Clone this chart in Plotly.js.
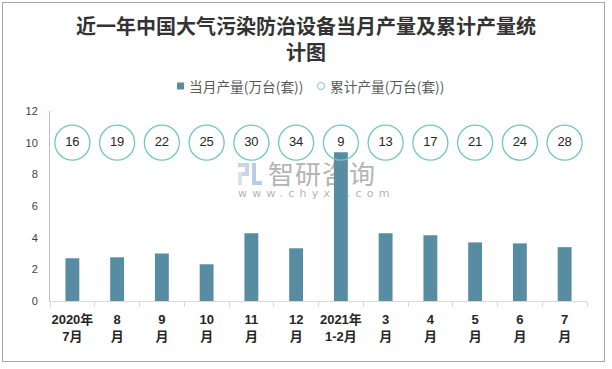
<!DOCTYPE html>
<html>
<head>
<meta charset="utf-8">
<script src="https://cdn.plot.ly/plotly-3.0.1.min.js"></script>
<style>
  html, body { margin: 0; padding: 0; background: #fff; width: 612px; height: 369px; overflow: hidden; }
  #frame { position: absolute; left: 2px; top: 2px; width: 603px; height: 360px; border: 1px solid #a6a6a6; box-sizing: border-box; z-index: 0; }
  #wm1 { position: absolute; left: 268px; top: 160px; font-family: "Noto Sans CJK SC", sans-serif; font-size: 26px; line-height: 26px; color: #b4b4b4; letter-spacing: 1px; z-index: 0; }
  #wm2 { position: absolute; left: 238px; top: 187px; font-family: "DejaVu Sans", sans-serif; font-size: 11px; line-height: 13px; color: #b4b4b4; letter-spacing: 5.2px; z-index: 0; }
  #logo { position: absolute; left: 238px; top: 163px; width: 24px; height: 22px; z-index: 0; }
  #logo div { position: absolute; background: #c9d5e6; }
  #chart { position: absolute; left: 0; top: 0; width: 612px; height: 369px; z-index: 1; }
</style>
</head>
<body>
<div id="frame"></div>
<div id="logo"><div style="left:0;top:0;width:11px;height:4px"></div><div style="left:7px;top:0;width:4px;height:12px"></div><div style="left:0;top:9px;width:11px;height:4px"></div><div style="left:0;top:9px;width:4px;height:13px;background:#d7e2ee"></div><div style="left:14px;top:0;width:4px;height:22px;background:#b9cde4"></div><div style="left:14px;top:18px;width:10px;height:4px;background:#b9cde4"></div></div>
<div id="wm1">智研咨询</div>
<div id="wm2">www.chyxx.com</div>
<div id="chart"></div>
<script>
// Data
const categories = ['2020年7月','8月','9月','10月','11月','12月','2021年1-2月','3月','4月','5月','6月','7月'];
const tickLabels = ['2020年<br>7月','8<br>月','9<br>月','10<br>月','11<br>月','12<br>月','2021年<br>1-2月','3<br>月','4<br>月','5<br>月','6<br>月','7<br>月'];
const monthlyOutput = [2.7, 2.76, 3.0, 2.32, 4.28, 3.33, 9.4, 4.28, 4.15, 3.7, 3.64, 3.4];
const cumulativeOutput = [16, 19, 22, 25, 30, 34, 9, 13, 17, 21, 24, 28];
const seriesNames = ['当月产量(万台(套))', '累计产量(万台(套))'];
const titleLines = ['近一年中国大气污染防治设备当月产量及累计产量统', '计图'];
const yTicks = [0, 2, 4, 6, 8, 10, 12];

const labelRow = 10; // height on the value axis where cumulative labels are shown

const barColor = '#588ca3';
const circleColor = '#72c7c1';

// plot-area geometry (pixels)
const M = { l: 50, r: 25, t: 111, b: 68 };
const W = 612, H = 369;
const pw = W - M.l - M.r, ph = H - M.t - M.b;
const px = v => (v - M.l) / pw;          // pixel x -> paper x
const py = v => (H - M.b - v) / ph;      // pixel y -> paper y

const traces = [
  {
    type: 'bar',
    x: categories,
    y: monthlyOutput,
    name: seriesNames[0],
    marker: { color: barColor },
    hoverinfo: 'x+y'
  },
  {
    type: 'scatter',
    mode: 'markers+text',
    x: categories,
    y: cumulativeOutput.map(() => labelRow),
    text: cumulativeOutput.map(String),
    name: seriesNames[1],
    textposition: 'middle center',
    textfont: { family: 'Liberation Sans, Noto Sans CJK SC, sans-serif', size: 13, color: '#262626' },
    marker: { symbol: 'circle-open', size: 35, color: circleColor, line: { width: 1.3, color: circleColor } },
    hoverinfo: 'text'
  }
];

const legendFont = { family: 'Noto Sans CJK SC, sans-serif', size: 13.7, color: '#595959' };
const titleFont = { family: 'Noto Sans CJK SC, sans-serif', size: 20, color: '#333333' };

const layout = {
  width: W,
  height: H,
  paper_bgcolor: 'rgba(0,0,0,0)',
  plot_bgcolor: 'rgba(0,0,0,0)',
  margin: M,
  bargap: 0.69,
  showlegend: false,
  shapes: [
    { type: 'rect', xref: 'paper', yref: 'paper', x0: px(177), x1: px(184), y0: py(89.5), y1: py(82.5),
      fillcolor: barColor, line: { width: 0 } },
    { type: 'circle', xref: 'paper', yref: 'paper', x0: px(317.5), x1: px(324.5), y0: py(89.5), y1: py(82.5),
      fillcolor: 'rgba(0,0,0,0)', line: { width: 1, color: circleColor } }
  ],
  annotations: [
    { xref: 'paper', yref: 'paper', x: px(306), y: py(25.5), xanchor: 'center', yanchor: 'middle',
      text: '<b>' + titleLines[0] + '</b>', showarrow: false, font: titleFont },
    { xref: 'paper', yref: 'paper', x: px(306), y: py(52), xanchor: 'center', yanchor: 'middle',
      text: '<b>' + titleLines[1] + '</b>', showarrow: false, font: titleFont },
    { xref: 'paper', yref: 'paper', x: px(187), y: py(86), xanchor: 'left', yanchor: 'middle',
      text: seriesNames[0], showarrow: false, font: legendFont },
    { xref: 'paper', yref: 'paper', x: px(328), y: py(86), xanchor: 'left', yanchor: 'middle',
      text: seriesNames[1], showarrow: false, font: legendFont }
  ],
  xaxis: {
    type: 'category',
    range: [-0.5, categories.length - 0.5],
    tickmode: 'array',
    tickvals: categories,
    ticktext: tickLabels,
    tickson: 'boundaries',
    ticks: 'outside',
    ticklen: 5,
    tickcolor: '#d9d9d9',
    ticklabelstandoff: 6,
    showline: true,
    linecolor: '#d9d9d9',
    linewidth: 1,
    showgrid: false,
    tickfont: { family: 'Liberation Sans, Noto Sans CJK SC, sans-serif', size: 13, color: '#262626', weight: 'bold' },
    tickangle: 0,
    fixedrange: true
  },
  yaxis: {
    range: [0, 12],
    tickmode: 'array',
    tickvals: yTicks,
    showline: true,
    linecolor: '#bfbfbf',
    linewidth: 1,
    showgrid: false,
    zeroline: false,
    ticks: '',
    ticklabelstandoff: 9,
    tickfont: { family: 'Liberation Sans, sans-serif', size: 11, color: '#404040' },
    fixedrange: true
  }
};

Plotly.newPlot('chart', traces, layout, { displayModeBar: false, staticPlot: true });
</script>
</body>
</html>
